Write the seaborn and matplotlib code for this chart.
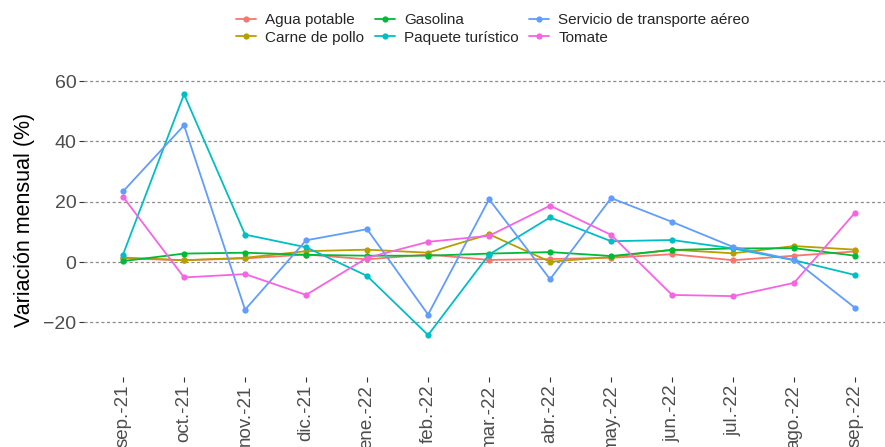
import pandas as pd
import seaborn as sns
import matplotlib.pyplot as plt

# months (x axis)
meses = ['sep.-21', 'oct.-21', 'nov.-21', 'dic.-21', 'ene.-22', 'feb.-22', 'mar.-22',
         'abr.-22', 'may.-22', 'jun.-22', 'jul.-22', 'ago.-22', 'sep.-22']

# monthly variation (%)
agua_potable = [1.2, 0.6, 1.2, 2.5, 0.9, 2.5, 0.7, 1.0, 1.4, 2.6, 0.6, 2.1, 3.5]
carne_pollo = [1.5, 0.6, 1.4, 3.6, 4.1, 3.1, 9.2, 0.1, 1.7, 4.1, 2.9, 5.3, 4.1]
gasolina = [0.3, 2.8, 3.1, 2.4, 2.1, 2.1, 2.8, 3.3, 2.0, 4.0, 4.5, 4.6, 2.1]
paquete_turistico = [2.5, 55.6, 9.1, 4.9, -4.6, -24.2, 2.5, 14.8, 6.9, 7.3, 4.5, 0.6, -4.3]
transporte_aereo = [23.4, 45.3, -15.8, 7.2, 10.9, -17.4, 20.8, -5.7, 21.2, 13.3, 5.0, 0.7, -15.2]
tomate = [21.6, -5.1, -4.0, -10.9, 1.4, 6.7, 8.7, 18.7, 9.0, -10.9, -11.3, -6.9, 16.4]

series = {
    'Agua potable': agua_potable,
    'Carne de pollo': carne_pollo,
    'Gasolina': gasolina,
    'Paquete turístico': paquete_turistico,
    'Servicio de transporte aéreo': transporte_aereo,
    'Tomate': tomate,
}
colores = ['#F8766D', '#B79F00', '#00BA38', '#00BFC4', '#619CFF', '#F564E3']

rows = []
for nombre, vals in series.items():
    for i, v in enumerate(vals):
        rows.append({'pos': i, 'mes': meses[i], 'producto': nombre, 'variacion': v})
df = pd.DataFrame(rows)

sns.set_style('white')
plt.rcParams['font.family'] = ['Liberation Sans', 'DejaVu Sans']

fig = plt.figure(figsize=(8.85, 4.47), dpi=100)
ax = fig.add_axes([84 / 885, 70 / 447, 801 / 885, 315 / 447])

sns.lineplot(data=df, x='pos', y='variacion', hue='producto', palette=colores,
             marker='o', markersize=4.5, markeredgewidth=0, linewidth=1.3, ax=ax)

ax.set_xlim(-0.64, 12.49)
ax.set_ylim(-38.1, 66.3)
ax.set_yticks([-20, 0, 20, 40, 60])
ax.set_xticks(range(len(meses)))
ax.set_xticklabels(meses, rotation=90, fontsize=13.5, color='#4D4D4D')
ax.tick_params(axis='y', labelsize=14, labelcolor='#4D4D4D', length=3.5, width=0.8,
               color='#333333', pad=2, left=True)
ax.tick_params(axis='x', length=3.5, width=0.8, color='#333333', pad=2, bottom=True)
ax.yaxis.grid(True, linestyle=(0, (2.5, 2)), color='#8c8c8c', linewidth=0.9)
ax.xaxis.grid(False)
for s in ax.spines.values():
    s.set_visible(False)
ax.set_xlabel('')
ax.set_ylabel('Variación mensual (%)', fontsize=15.5, color='black', labelpad=6)

handles, labels = ax.get_legend_handles_labels()
ax.legend(handles, labels, ncol=3, loc='center', bbox_to_anchor=(493 / 885, 1 - 29 / 447),
          bbox_transform=fig.transFigure, frameon=False, fontsize=11,
          handlelength=1.3, columnspacing=0.7, handletextpad=0.6, labelspacing=0.2)

fig.savefig('out.png', dpi=100)
